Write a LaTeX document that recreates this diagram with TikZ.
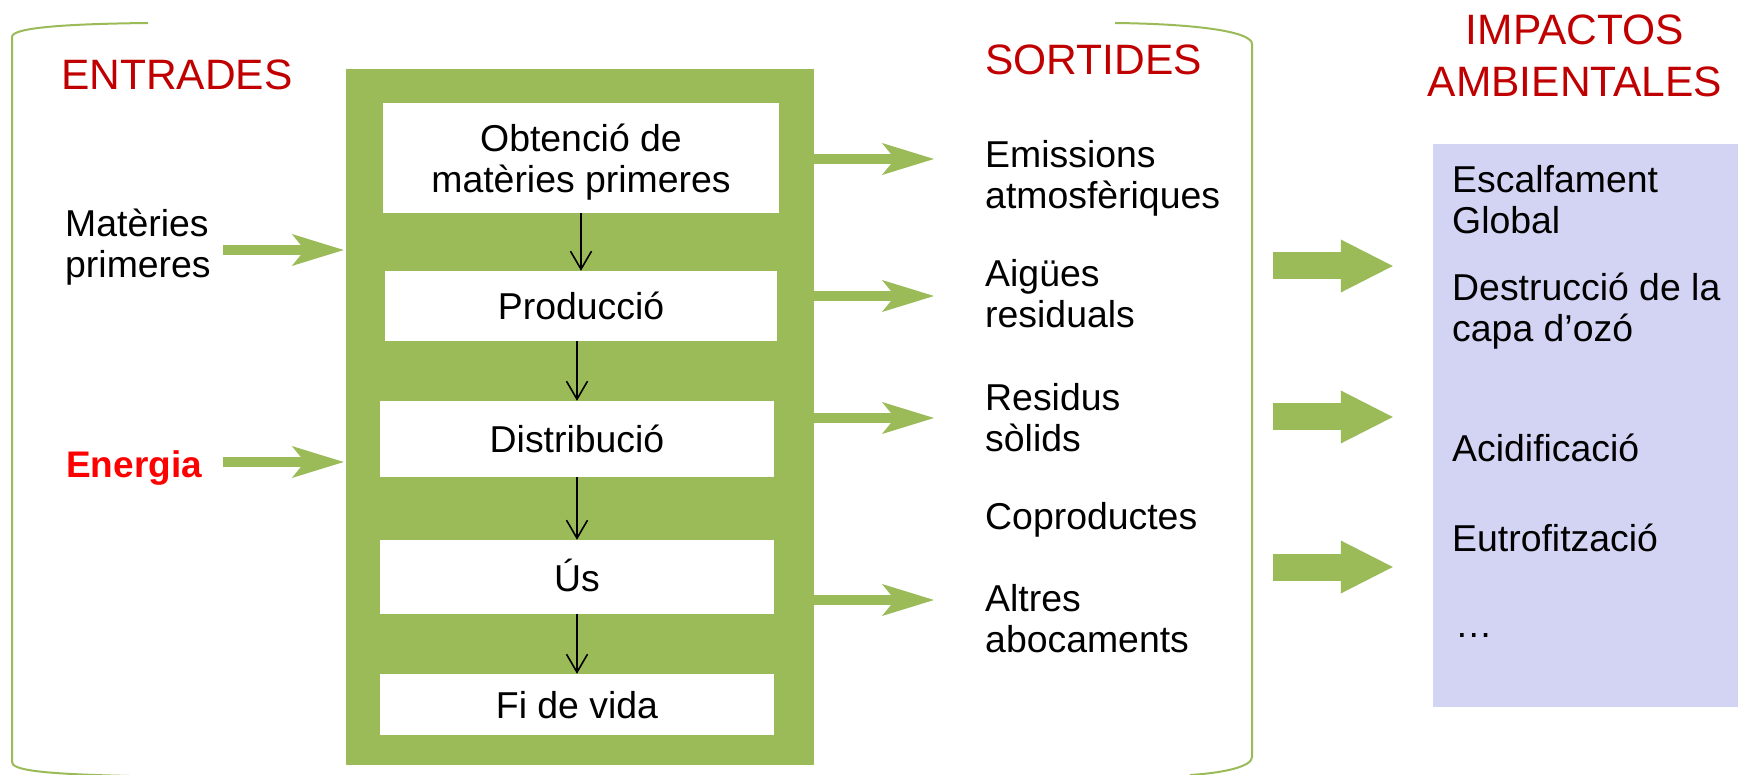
\documentclass[tikz,border=0pt]{standalone}
\usepackage{fontspec}
\setmainfont{Liberation Sans}
\usetikzlibrary{arrows.meta}
\definecolor{lcagreen}{HTML}{9BBB59}
\definecolor{hdrred}{HTML}{C00000}
\definecolor{enred}{HTML}{FF0000}
\definecolor{impbg}{HTML}{D3D3F3}
\tikzset{
  hdr/.style={font=\fontsize{42.5}{52}\selectfont, text=hdrred, inner sep=0pt, align=center},
  lbl/.style={font=\fontsize{37.4}{41}\selectfont, inner sep=0pt, anchor=base west, align=left},
  stepbox/.style={fill=white, draw=none, inner sep=0pt, font=\fontsize{37.4}{41}\selectfont, align=center, text height=28pt, text depth=0pt},
  flowarrow/.style={draw=black, line width=1.6pt, -{Straight Barb[length=18pt,width=21pt]}},
  thinarrow/.style={draw=lcagreen, line width=10pt, -{Stealth[length=52pt,width=32pt,inset=13pt,line width=0pt]}},
  bigarrow/.style={draw=lcagreen, line width=27pt, -{Triangle[length=52pt,width=53pt,line width=0pt]}},
  bracket/.style={draw=lcagreen, line width=2pt},
}
\begin{document}
\begin{tikzpicture}[x=1pt,y=-1pt]
\useasboundingbox (0,0) rectangle (1738,775);
% brackets
\draw[bracket] (148,23) .. controls (60,24) and (12,28) .. (12,37) -- (12,762) .. controls (12,770) and (40,774) .. (130,776);
\draw[bracket] (1115,23) .. controls (1200,24) and (1252,32) .. (1252,44) -- (1252,757) .. controls (1252,767) and (1222,773) .. (1190,775);
% headers (multi-line nodes: base = last line)
\node[hdr, anchor=base west] (entr) at (61,90) {ENTRADES};
\node[hdr, anchor=base west] (sort) at (985,75) {SORTIDES};
\node[hdr, anchor=base] (imph) at (1575,97) {IMPACTOS\\AMBIENTALES};
% green frame
\node[fill=lcagreen, minimum width=468pt, minimum height=696pt, inner sep=0pt] (frame) at (580,417) {};
% steps
\node[stepbox, minimum width=396pt, minimum height=110pt, text height=70pt, text depth=0pt] (obt) at (581,158) {Obtenció de\\matèries primeres};
\node[stepbox, minimum width=392pt, minimum height=70pt] (prod) at (581,306) {Producció};
\node[stepbox, minimum width=394pt, minimum height=76pt] (dist) at (577,439) {Distribució};
\node[stepbox, minimum width=394pt, minimum height=74pt] (us) at (577,577) {Ús};
\node[stepbox, minimum width=394pt, minimum height=61pt] (fi) at (577,704.5) {Fi de vida};
\draw[flowarrow] (obt.south) -- (obt.south |- prod.north);
\draw[flowarrow] (dist.north |- prod.south) -- (dist.north);
\draw[flowarrow] (dist.south) -- (us.north);
\draw[flowarrow] (us.south) -- (fi.north);
% inputs
\node[lbl] (mat) at (65,278) {Matèries\\primeres};
\node[lbl, font=\fontsize{37}{41}\selectfont\bfseries, text=enred] (ener) at (66,477) {Energia};
\coordinate (matS) at (223,250);
\coordinate (enerS) at (223,462);
\draw[thinarrow] (matS) -- ([xshift=-2pt]frame.west |- matS);
\draw[thinarrow] (enerS) -- ([xshift=-2pt]frame.west |- enerS);
% outputs
\node[lbl] (s1) at (985,209) {Emissions\\atmosfèriques};
\node[lbl] (s2) at (985,328) {Aigües\\residuals};
\node[lbl] (s3) at (985,451) {Residus\\sòlids};
\node[lbl] (s4) at (985,529) {Coproductes};
\node[lbl] (s5) at (985,652) {Altres\\abocaments};
\coordinate (o1) at (934,159);
\coordinate (o2) at (934,296);
\coordinate (o3) at (934,418);
\coordinate (o4) at (934,600);
\draw[thinarrow] (frame.east |- o1) -- (o1);
\draw[thinarrow] (frame.east |- o2) -- (o2);
\draw[thinarrow] (frame.east |- o3) -- (o3);
\draw[thinarrow] (frame.east |- o4) -- (o4);
% impacts
\node[fill=impbg, minimum width=305pt, minimum height=563pt, inner sep=0pt] (imp) at (1585.5,425.5) {};
\node[lbl] (i1) at (1452,234) {Escalfament\\Global};
\node[lbl] (i2) at (1452,342) {Destrucció de la\\capa d’ozó};
\node[lbl] (i3) at (1452,461) {Acidificació};
\node[lbl] (i4) at (1452,551) {Eutrofització};
\node[lbl] (i5) at (1455,637) {…};
\coordinate (b1s) at (1273,266);
\coordinate (b2s) at (1273,417);
\coordinate (b3s) at (1273,567);
\draw[bigarrow] (b1s) -- ([xshift=-40pt]imp.west |- b1s);
\draw[bigarrow] (b2s) -- ([xshift=-40pt]imp.west |- b2s);
\draw[bigarrow] (b3s) -- ([xshift=-40pt]imp.west |- b3s);
\end{tikzpicture}
\end{document}
